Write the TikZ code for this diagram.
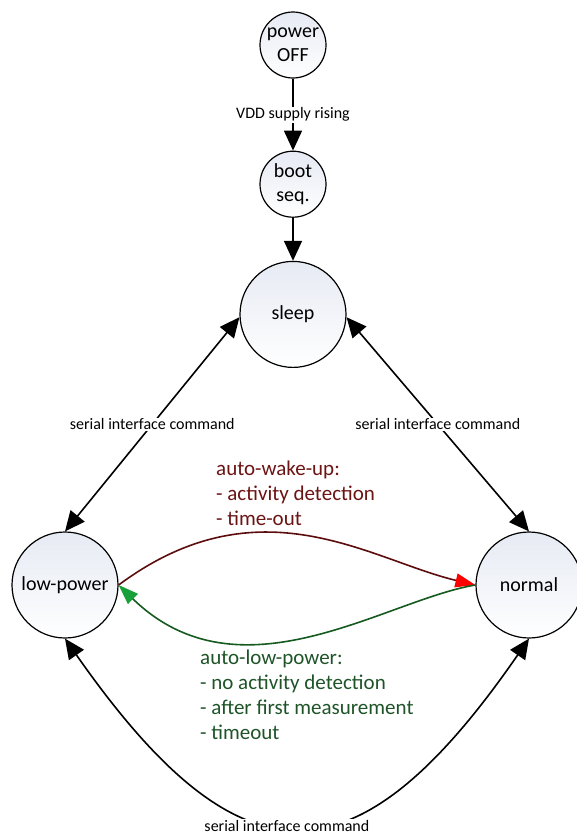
\documentclass[tikz,border=0pt]{standalone}
\usepackage{fontspec}
\setmainfont{Carlito}
\usetikzlibrary{arrows.meta,positioning}
\definecolor{wakered}{HTML}{6B1414}
\definecolor{wakeline}{HTML}{5C0C0C}
\definecolor{lowgreen}{HTML}{1E5428}
\definecolor{lowline}{HTML}{155A1F}
\definecolor{tipgreen}{HTML}{18A03A}
\definecolor{statefill}{HTML}{E6EAF3}
\tikzset{
    %Define standard arrow tip
    >={Triangle[length=20pt,width=18pt]},
    %Define style for the states
    smallstate/.style={
           circle,
           draw=black, line width=1.2pt,
           top color=statefill, bottom color=white,
           minimum size=66pt,
           inner sep=0pt,
           align=center,
           font=\fontsize{20}{24}\selectfont},
    bigstate/.style={
           smallstate,
           minimum size=106pt},
    % Define arrow style
    pil/.style={
           line width=1.6pt},
    % Define style for the command labels
    cmd/.style={
           fill=white,
           inner sep=1pt,
           font=\fontsize{16}{19}\selectfont},
    % Define style for the automatic transitions
    wake/.style={
           line width=1.6pt, draw=wakeline,
           -{Triangle[length=20pt,width=14pt,color=red]}},
    lowp/.style={
           line width=1.6pt, draw=lowline,
           -{Triangle[length=20pt,width=14pt,color=tipgreen]}},
    note/.style={
           anchor=west,
           align=left,
           inner sep=0pt,
           font=\fontsize{21}{25}\selectfont}
}
\begin{document}
\begin{tikzpicture}[x=1pt,y=1pt]
    \useasboundingbox (0,0) rectangle (576,-835);
    \node[smallstate] (power) at (293,-45) {power\\OFF};
    \node[smallstate, below=72pt of power] (boot) {boot\\seq.};
    \node[bigstate, below=43pt of boot] (sleep) {sleep};
    \node[bigstate] (lowpower) at (65,-585) {low-power};
    \node[bigstate] (normal) at (529,-585) {normal};
    \draw[pil,->] (power) -- node[cmd] {VDD supply rising} (boot);
    \draw[pil,->] (boot) -- (sleep);
    \draw[pil,<->] (sleep.183) -- node[cmd] {serial interface command} (lowpower.north);
    \draw[pil,<->] (sleep.357) -- node[cmd] {serial interface command} (normal.north);
    \draw[pil,<->] (lowpower.south) .. controls (240,-889) and (356,-889)
        .. node[cmd,pos=0.475] {serial interface command} (normal.south);
    % automatic transitions
    \draw[wake] (lowpower.east) .. controls (260,-480) and (370,-560) .. (normal.west);
    \draw[lowp] (normal.west) .. controls (385,-600) and (240,-703) .. (lowpower.east);
    \node[note, text=wakered] (wakeup) at (216,-493)
        {auto-wake-up:\\- activity detection\\- time-out};
    \node[note, text=lowgreen] (autolow) at (200,-695)
        {auto-low-power:\\- no activity detection\\- after first measurement\\- timeout};
\end{tikzpicture}
\end{document}
